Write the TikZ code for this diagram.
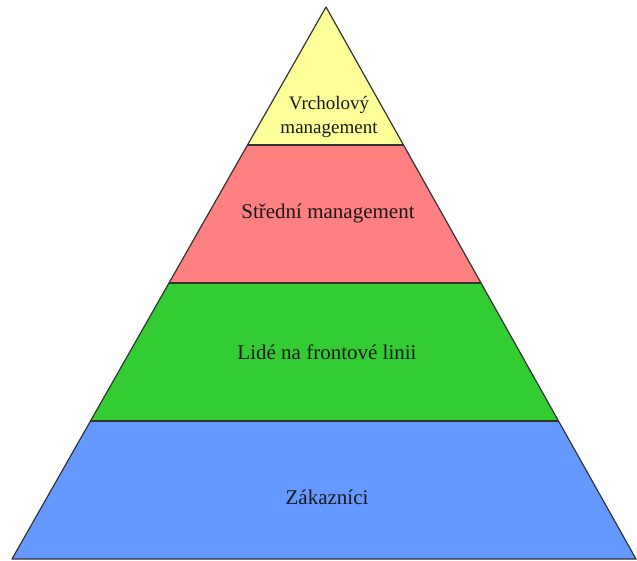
\documentclass[tikz,border=0pt]{standalone}
\usepackage{fontspec}
\setmainfont{Liberation Serif}
\usetikzlibrary{calc}
\definecolor{topyellow}{HTML}{FFFF99}
\definecolor{midred}{HTML}{FF8080}
\definecolor{frontgreen}{HTML}{33CC33}
\definecolor{custblue}{HTML}{6699FF}
\begin{document}
\begin{tikzpicture}[x=1pt,y=-1pt,
  band/.style={draw=black!80, line width=1.2pt, line join=round},
  label/.style={font=\fontsize{21}{25}\selectfont, align=center, text=black!90},
  toplabel/.style={label, font=\fontsize{19}{24}\selectfont}]
\useasboundingbox (0,0) rectangle (637,561);
% corners of the pyramid
\coordinate (apex) at (326,7);
\coordinate (bl) at (12,559);
\coordinate (br) at (636,559);
% edge points at each band boundary
\foreach \k/\yy in {a/145,b/283,c/421}{
  \pgfmathsetmacro{\frac}{(\yy-7)/552}
  \coordinate (L\k) at ($(apex)!\frac!(bl)$);
  \coordinate (R\k) at ($(apex)!\frac!(br)$);
}
\fill[topyellow] (apex) -- (Ra) -- (La) -- cycle;
\fill[midred] (La) -- (Ra) -- (Rb) -- (Lb) -- cycle;
\fill[frontgreen] (Lb) -- (Rb) -- (Rc) -- (Lc) -- cycle;
\fill[custblue] (Lc) -- (Rc) -- (br) -- (bl) -- cycle;
\draw[band] (La) -- (Ra);
\draw[band] (Lb) -- (Rb);
\draw[band] (Lc) -- (Rc);
\draw[band] (apex) -- (br) -- (bl) -- cycle;
% level labels
\node[toplabel] (top) at (329,117) {Vrcholový\\management};
\node[label] (mid) at (328,213) {Střední management};
\node[label] (front) at (327,352) {Lidé na frontové linii};
\node[label] (cust) at (327,497) {Zákazníci};
\end{tikzpicture}
\end{document}
